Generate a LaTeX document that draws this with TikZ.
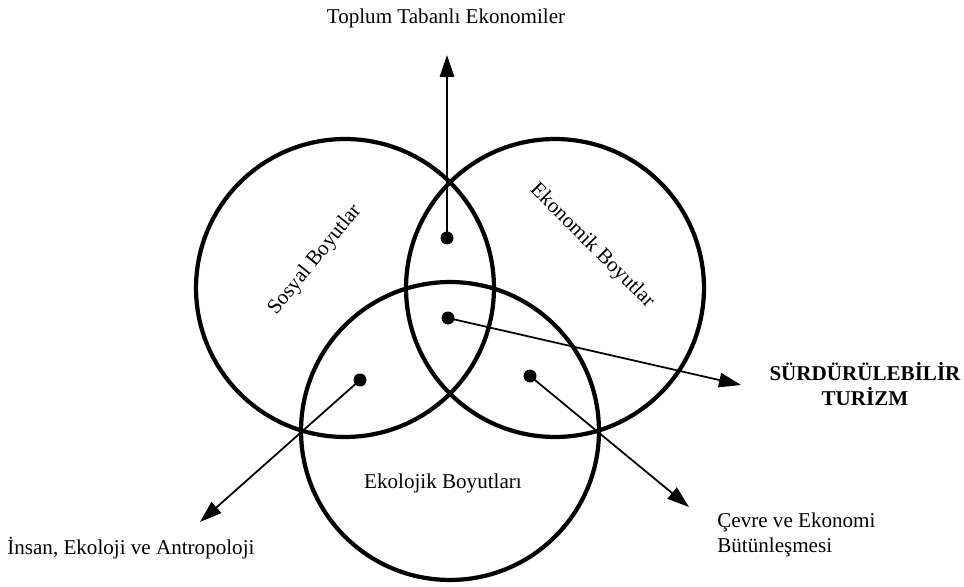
\documentclass[tikz,border=0pt]{standalone}
\usepackage{fontspec}
\setmainfont{Liberation Serif}
\usetikzlibrary{positioning,arrows.meta}

\begin{document}
\begin{tikzpicture}[
  x=0.02cm, y=-0.02cm, >={Triangle[length=4.4mm,width=2.9mm]},
  font=\fontsize{12}{14.5}\selectfont,
  ring/.style={draw,circle,line width=2.4pt,minimum size=5.96cm,inner sep=0pt},
  dot/.style={fill,circle,minimum size=2.6mm,inner sep=0pt},
  link/.style={->,line width=1pt},
  lbl/.style={inner sep=0pt,align=center}
]
\useasboundingbox (0,0) rectangle (964,587);

% Three dimensions
\node[ring] (sosyal) at (345,288) {};
\node[ring] (ekonomik) at (555,288) {};
\node[ring] (ekolojik) at (450,431) {};

\node[lbl, rotate=51] (sosyalTxt) at (315,260) {Sosyal Boyutlar};
\node[lbl, rotate=-45] (ekonomikTxt) at (592,246) {Ekonomik Boyutlar};
\node[lbl] (ekolojikTxt) at (443,483) {Ekolojik Boyutları};

% Overlap points
\node[dot] (pTop) at (447,238) {};
\node[dot] (pMid) at (448,318) {};
\node[dot] (pLeft) at (360,380) {};
\node[dot] (pRight) at (530,376) {};

% Outer labels
\node[lbl] (toplum) at (446,18) {Toplum Tabanlı Ekonomiler};
\node[lbl, font=\fontsize{12}{14.5}\selectfont\bfseries] (turizm) at (865,384)
      {SÜRDÜRÜLEBİLİR\\TURİZM};
\node[lbl, anchor=west] (insan) at (7,548) {İnsan, Ekoloji ve Antropoloji};
\node[lbl, anchor=west, align=left] (cevre) at (717,535)
      {Çevre ve Ekonomi\\Bütünleşmesi};

% Arrow ends
\coordinate (tTop) at (447,55);
\coordinate (tMid) at (741,385);
\coordinate (tLeft) at (200,522);
\coordinate (tRight) at (689,507);

% Connections
\draw[link] (pTop.center) -- (tTop);
\draw[link] (pMid.center) -- (tMid);
\draw[link] (pLeft.center) -- (tLeft);
\draw[link] (pRight.center) -- (tRight);
\end{tikzpicture}
\end{document}
